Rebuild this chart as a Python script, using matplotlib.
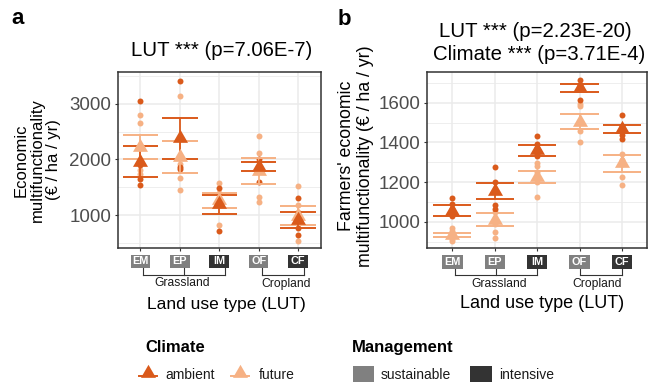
import matplotlib
matplotlib.use('Agg')
import matplotlib.pyplot as plt
from matplotlib.patches import Rectangle
from matplotlib.lines import Line2D
import numpy as np

plt.rcParams['font.family'] = ['Liberation Sans', 'DejaVu Sans']

# ---------------- data ----------------
categories = ['EM', 'EP', 'IM', 'OF', 'CF']
management = ['sustainable', 'sustainable', 'intensive', 'sustainable', 'intensive']
climates = ['ambient', 'future']

# panel a: Economic multifunctionality
a_amb_mean = [1963, 2380, 1194, 1866, 910]
a_amb_se = [278, 368, 171, 81, 144]
a_fut_mean = [2215, 2042, 1266, 1793, 989]
a_fut_se = [216, 288, 135, 231, 174]
a_amb_points = [[3049, 1960, 1900, 1653, 1545],
                [3413, 2400, 1862, 1832],
                [1485, 1200, 1180, 707],
                [2000, 1880, 1850, 1593],
                [1311, 1000, 900, 772, 646]]
a_fut_points = [[2802, 2648, 2210, 1803, 1740],
                [3143, 2040, 1922, 1665, 1449],
                [1569, 1390, 1280, 815],
                [2425, 2120, 1850, 1318, 1234],
                [1527, 1174, 1050, 900, 538]]

# panel b: Farmers' economic multifunctionality
b_amb_mean = [1056, 1156, 1359, 1674, 1469]
b_amb_se = [28, 40, 28, 20, 20]
b_fut_mean = [931, 1010, 1227, 1504, 1294]
b_fut_se = [10, 33, 30, 37, 42]
b_amb_points = [[1121, 1090, 1065, 1040, 1030],
                [1274, 1200, 1160, 1083, 1063],
                [1432, 1390, 1370, 1340, 1330],
                [1713, 1690, 1680, 1612],
                [1536, 1480, 1470, 1436, 1419]]
b_fut_points = [[970, 955, 930, 915, 901],
                [1050, 1010, 990, 948, 919],
                [1294, 1280, 1250, 1200, 1123],
                [1595, 1583, 1510, 1456, 1403],
                [1343, 1310, 1290, 1227, 1183]]

# ---------------- style ----------------
W, H = 648, 385
C_AMB = '#DA5A1B'
C_FUT = '#F6B184'
MGMT_COL = {'sustainable': '#808080', 'intensive': '#333333'}
GRID = '#EBEBEB'
BORDER = '#333333'
TICKLAB = '#4D4D4D'

tri_verts = [(-1, -0.5774), (1, -0.5774), (0, 1.1547), (-1, -0.5774)]

fig = plt.figure(figsize=(W / 100, H / 100), dpi=100)


def fx(px):
    return px / W


def fy(py):
    return 1 - py / H


def make_ax(left, right, top, bottom):
    return fig.add_axes([fx(left), fy(bottom), fx(right) - fx(left), (bottom - top) / H])


def draw_panel(ax, amb_pts, fut_pts, amb_m, amb_se, fut_m, fut_se,
               xlim, ylim, major, minor, box_w, bracket_x, group_x):
    x = np.arange(1, len(categories) + 1)
    ax.set_xlim(*xlim)
    ax.set_ylim(*ylim)
    ax.set_axisbelow(True)
    ax.set_xticks(x)
    ax.set_xticklabels([])
    ax.set_yticks(major)
    ax.set_yticks(minor, minor=True)
    ax.yaxis.grid(True, which='major', color=GRID, lw=1.1)
    ax.yaxis.grid(True, which='minor', color=GRID, lw=0.6)
    ax.xaxis.grid(True, which='major', color=GRID, lw=1.1)
    for s in ax.spines.values():
        s.set_color(BORDER)
        s.set_linewidth(1.1)
    ax.tick_params(which='major', length=2.5, width=0.8, color=BORDER,
                   labelsize=13.5, labelcolor=TICKLAB, pad=2.5)
    ax.tick_params(which='minor', length=0)

    for pts, m, se, col in ((fut_pts, fut_m, fut_se, C_FUT),
                            (amb_pts, amb_m, amb_se, C_AMB)):
        for i, p in enumerate(pts):
            ax.plot([x[i]] * len(p), p, 'o', ms=4.3, color=col, mec='none', zorder=3)
        m = np.asarray(m, float)
        se = np.asarray(se, float)
        ax.vlines(x, m - se, m + se, color=col, lw=1.3, zorder=4)
        ax.hlines(m - se, x - 0.45, x + 0.45, color=col, lw=1.4, zorder=4)
        ax.hlines(m + se, x - 0.45, x + 0.45, color=col, lw=1.4, zorder=4)
        ax.plot(x, m, ls='none', marker=tri_verts, ms=12.5, color=col, mec='none', zorder=5)

    # boxed category labels
    trans = ax.get_xaxis_transform()
    axh = 176.0
    y_top = -(254.8 - 248) / axh
    bh = 13.4 / axh
    y0 = y_top - bh
    for i, cat in enumerate(categories):
        ax.add_patch(Rectangle((x[i] - box_w / 2, y0), box_w, bh, transform=trans,
                               color=MGMT_COL[management[i]], clip_on=False, lw=0))
        ax.text(x[i], y0 + bh / 2, cat, transform=trans, ha='center', va='center',
                color='white', fontsize=7.8, fontweight='bold', clip_on=False)
    # brackets
    y_line = -(274.7 - 248) / axh
    groups = [(0, 3, 'Grassland'), (3, 5, 'Cropland')]
    for gi, (s, e, name) in enumerate(groups):
        xs = bracket_x[s:e]
        for xv in xs:
            ax.add_line(Line2D([xv, xv], [y0, y_line], transform=trans, color='#333333',
                               lw=0.8, clip_on=False))
        ax.add_line(Line2D([xs[0], xs[-1]], [y_line, y_line], transform=trans,
                           color='#333333', lw=0.8, clip_on=False))
        ax.text(group_x[gi], -(283.5 - 248) / axh, name, transform=trans, ha='center',
                va='center', fontsize=8.7, color='#1A1A1A', clip_on=False)


# panel a
ax_a = make_ax(118, 320.5, 72, 248)
draw_panel(ax_a, a_amb_points, a_fut_points, a_amb_mean, a_amb_se, a_fut_mean, a_fut_se,
           (0.43, 5.57), (410, 3570), [1000, 2000, 3000], [500, 1500, 2500, 3500],
           0.5, [1.07, 2.11, 3.15, 4.08, 5.14], [2.07, 4.71])

# panel b
ax_b = make_ax(427, 647.3, 72.3, 248.3)
draw_panel(ax_b, b_amb_points, b_fut_points, b_amb_mean, b_amb_se, b_fut_mean, b_fut_se,
           (0.4, 5.6), (866, 1753), [1000, 1200, 1400, 1600], [900, 1100, 1300, 1500, 1700],
           0.48, [1.07, 2.02, 3.0, 4.0, 5.0], [2.1, 4.42])

# titles & labels
fig.text(fx(11.7), fy(24), 'a', fontsize=16, fontweight='bold', va='baseline', ha='left')
fig.text(fx(338), fy(25), 'b', fontsize=16, fontweight='bold', va='baseline', ha='left')

fig.text(fx(221.7), fy(50), 'LUT *** (p=7.06E-7)', fontsize=14.7, ha='center', va='center')
fig.text(fx(535.8), fy(31.7), 'LUT *** (p=2.23E-20)', fontsize=14.7, ha='center', va='center')
fig.text(fx(539), fy(55), 'Climate *** (p=3.71E-4)', fontsize=14.7, ha='center', va='center')

fig.text(fx(37), fy(160), 'Economic\nmultifunctionality\n(€ / ha / yr)', rotation=90,
         fontsize=12, ha='center', va='center', linespacing=1.1)
fig.text(fx(356), fy(156), "Farmers' economic\nmultifunctionality (€ / ha / yr)", rotation=90,
         fontsize=12.8, ha='center', va='center', linespacing=1.1)

fig.text(fx(226.7), fy(304), 'Land use type (LUT)', fontsize=12.5, ha='center', va='center')
fig.text(fx(542), fy(304), 'Land use type (LUT)', fontsize=13, ha='center', va='center')

# legend: Climate
fig.text(fx(145), fy(352.3), 'Climate', fontsize=12, fontweight='bold', ha='left', va='baseline')
for cx, col, lab, tx in ((147.5, C_AMB, 'ambient', 165), (240, C_FUT, 'future', 258.3)):
    fig.add_artist(Line2D([fx(cx - 9), fx(cx + 9)], [fy(376), fy(376)], color=col, lw=1.4,
                          transform=fig.transFigure))
    fig.add_artist(Line2D([fx(cx)], [fy(372.5)], marker=tri_verts, ms=12.5, color=col, mec='none',
                          ls='none', transform=fig.transFigure))
    fig.text(fx(tx), fy(379), lab, fontsize=10, ha='left', va='baseline', color='#1A1A1A')

# legend: Management
fig.text(fx(352.3), fy(352.3), 'Management', fontsize=12, fontweight='bold', ha='left', va='baseline')
for x0, x1, lab, tx in ((353.3, 374.3, 'sustainable', 381), (470, 491.7, 'intensive', 499)):
    fig.add_artist(Rectangle((fx(x0), fy(381.7)), fx(x1) - fx(x0), (381.7 - 366.2) / H,
                             color=MGMT_COL[lab], lw=0, transform=fig.transFigure))
    fig.text(fx(tx), fy(379), lab, fontsize=10, ha='left', va='baseline', color='#1A1A1A')

fig.savefig('out.png', dpi=100)
